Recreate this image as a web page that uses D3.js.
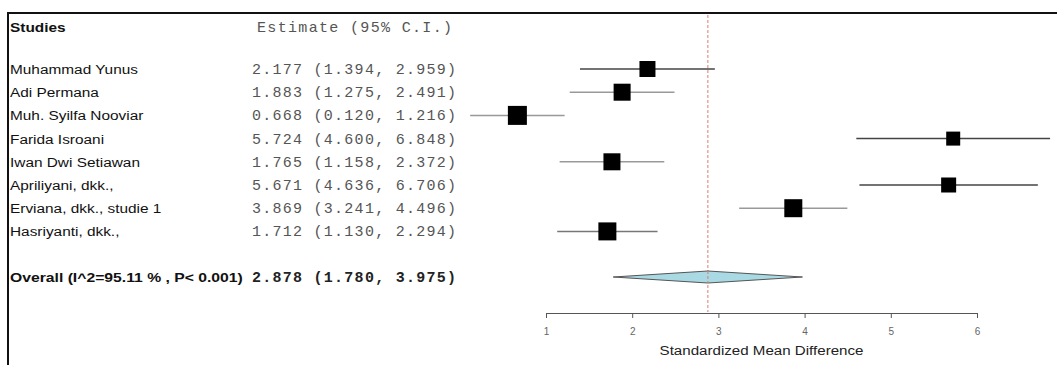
<!DOCTYPE html>
<html><head><meta charset="utf-8">
<script src="https://cdn.jsdelivr.net/npm/d3@7"></script>
<style>body{margin:0;background:#fff}svg{display:block}</style>
</head><body>
<svg id="c" width="1057" height="365"></svg>
<script>
const studies = ["Muhammad Yunus","Adi Permana","Muh. Syilfa Nooviar","Farida Isroani","Iwan Dwi Setiawan","Apriliyani, dkk.,","Erviana, dkk., studie 1","Hasriyanti, dkk.,"];
const estimates = [2.177,1.883,0.668,5.724,1.765,5.671,3.869,1.712];
const lowers = [1.394,1.275,0.120,4.600,1.158,4.636,3.241,1.130];
const uppers = [2.959,2.491,1.216,6.848,2.372,6.706,4.496,2.294];
const weights = [16,17,19,14,17,15,18,18];
const overallLabel = "Overall (I^2=95.11 % , P< 0.001)";
const overall = {est:2.878, lo:1.780, hi:3.975};
const xTicks = [1,2,3,4,5,6];
const fmt = d3.format(".3f");

const svg = d3.select("#c");
const x = d3.scaleLinear().domain([1,6]).range([546,977]);
const y = d3.scaleLinear().domain([0,1]).range([69,92.2]);
const yOverall = 277;
const scaleX = 1.14;

// frame
svg.append("line").attr("x1",8).attr("x2",1057).attr("y1",13).attr("y2",13).attr("stroke","#111").attr("stroke-width",2);
svg.append("line").attr("x1",8).attr("x2",8).attr("y1",12).attr("y2",365).attr("stroke","#111").attr("stroke-width",2);

// header
const tg = svg.append("g").attr("transform",`translate(10,0) scale(${scaleX},1)`);
tg.append("text").attr("x",0).attr("y",32).text("Studies")
  .attr("font-family","Liberation Sans, Arial").attr("font-weight","bold").attr("font-size",13.5).attr("fill","#111");
svg.append("text").attr("x",257).attr("y",32).text("Estimate (95% C.I.)")
  .attr("font-family","Liberation Mono, Courier New, monospace").attr("font-size",15).attr("fill","#555")
  .attr("textLength",195).attr("lengthAdjust","spacing");

// names
tg.selectAll("text.name").data(studies).join("text").attr("class","name")
  .attr("x",0).attr("y",(d,i)=>y(i)+5).text(d=>d)
  .attr("font-family","Liberation Sans, Arial").attr("font-size",13.5).attr("fill","#111");
svg.append("text").attr("transform",`translate(10,${yOverall+5}) scale(1.165,1)`).text(overallLabel)
  .attr("font-family","Liberation Sans, Arial").attr("font-weight","bold").attr("font-size",13.5).attr("fill","#111");

// estimates text
svg.selectAll("text.est").data(studies).join("text").attr("class","est")
  .attr("x",252).attr("y",(d,i)=>y(i)+5)
  .text((d,i)=>`${fmt(estimates[i])} (${fmt(lowers[i])}, ${fmt(uppers[i])})`)
  .attr("font-family","Liberation Mono, Courier New, monospace").attr("font-size",15).attr("fill","#555")
  .attr("textLength",204).attr("lengthAdjust","spacing");
svg.append("text").attr("x",252).attr("y",yOverall+5)
  .text(`${fmt(overall.est)} (${fmt(overall.lo)}, ${fmt(overall.hi)})`)
  .attr("font-family","Liberation Mono, Courier New, monospace").attr("font-weight","bold").attr("font-size",15).attr("fill","#222")
  .attr("textLength",204).attr("lengthAdjust","spacing");

// reference line
svg.append("line").attr("x1",x(overall.est)).attr("x2",x(overall.est)).attr("y1",15).attr("y2",312)
  .attr("stroke","#e07878").attr("stroke-width",1).attr("stroke-dasharray","3,2");

// CI lines
const lineCols = ["#444","#999","#999","#444","#999","#444","#999","#777"];
svg.selectAll("line.ci").data(studies).join("line").attr("class","ci")
  .attr("x1",(d,i)=>x(lowers[i])).attr("x2",(d,i)=>x(uppers[i]))
  .attr("y1",(d,i)=>y(i)).attr("y2",(d,i)=>y(i))
  .attr("stroke",(d,i)=>lineCols[i]).attr("stroke-width",1.5);
// squares
svg.selectAll("rect.sq").data(studies).join("rect").attr("class","sq")
  .attr("x",(d,i)=>x(estimates[i])-weights[i]/2).attr("y",(d,i)=>y(i)-weights[i]/2)
  .attr("width",(d,i)=>weights[i]).attr("height",(d,i)=>weights[i]).attr("fill","#000");

// diamond
const h = 6;
svg.append("path").attr("d",`M${x(overall.lo)},${yOverall} L${x(overall.est)},${yOverall-h} L${x(overall.hi)},${yOverall} L${x(overall.est)},${yOverall+h} Z`)
  .attr("fill","#a9d9e2").attr("stroke","#555").attr("stroke-width",1);
svg.append("line").attr("x1",x(overall.est)).attr("x2",x(overall.est)).attr("y1",yOverall-h).attr("y2",yOverall+h)
  .attr("stroke","#e07878").attr("stroke-dasharray","3,2");

// axis
const ax = svg.append("g").attr("transform","translate(0,313)")
  .call(d3.axisBottom(x).tickValues(xTicks).tickFormat(d3.format("d")).tickSize(5).tickSizeOuter(0));
ax.select(".domain").attr("stroke","#555");
ax.selectAll(".tick line").attr("stroke","#555");
ax.selectAll(".tick text").attr("font-family","Liberation Sans, Arial").attr("font-size",10).attr("fill","#666").attr("y",15);
svg.append("text").attr("transform",`translate(${x(3.5)},355) scale(1.12,1)`).attr("text-anchor","middle")
  .text("Standardized Mean Difference").attr("font-family","Liberation Sans, Arial").attr("font-size",13.5).attr("fill","#222");
</script>
</body></html>
